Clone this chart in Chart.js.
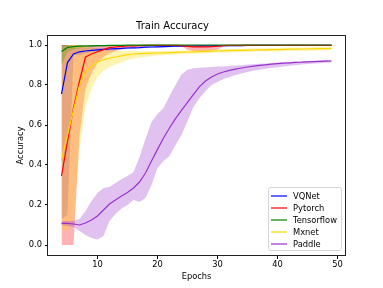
<!DOCTYPE html>
<html>
<head>
<meta charset="utf-8">
<title>Train Accuracy</title>
<script src="https://cdn.jsdelivr.net/npm/chart.js@4.4.1/dist/chart.umd.min.js"></script>
<style>
    html, body { margin: 0; padding: 0; background: #fff; }
    #wrap { width: 383px; height: 288px; }
</style>
</head>
<body>
<div id="wrap"><canvas id="accChart" width="383" height="288"></canvas></div>
<script>
// Epochs on the x axis
const epochs = [4, 5, 6, 7, 8, 9, 10, 11, 12, 13, 14, 15, 16, 17, 18, 19, 20, 21, 22, 23, 24, 25, 26,
    27, 28, 29, 30, 31, 32, 33, 34, 35, 36, 37, 38, 39, 40, 41, 42, 43, 44, 45, 46, 47, 48, 49];

const seriesNames = ['VQNet', 'Pytorch', 'Tensorflow', 'Mxnet', 'Paddle'];
const seriesColors = ['#0000ff', '#ff0000', '#008000', '#ffd700', '#9932cc'];
const bandColors = ['rgba(0,0,255,0.2)', 'rgba(255,0,0,0.3)', 'rgba(0,128,0,0.3)',
    'rgba(255,215,0,0.3)', 'rgba(153,50,204,0.3)'];

const xTicks = [10, 20, 30, 40, 50];
const yTicks = [0.0, 0.2, 0.4, 0.6, 0.8, 1.0];

// VQNet
const vqnetMean = [0.755, 0.912, 0.955, 0.966, 0.970, 0.973, 0.976, 0.978, 0.980, 0.982, 0.983, 0.985,
    0.986, 0.987, 0.989, 0.990, 0.991, 0.992, 0.993, 0.994, 0.994, 0.995, 0.995, 0.996, 0.996, 0.996,
    0.997, 0.997, 0.997, 0.997, 0.997, 0.998, 0.998, 0.998, 0.998, 0.998, 0.998, 0.998, 0.998, 0.998,
    0.998, 0.998, 0.998, 0.998, 0.998, 0.998];
const vqnetLow = [0.13, 0.15, 0.95, 0.950, 0.957, 0.962, 0.966, 0.969, 0.972, 0.975, 0.977, 0.979,
    0.981, 0.983, 0.985, 0.986, 0.987, 0.988, 0.989, 0.990, 0.990, 0.991, 0.991, 0.992, 0.992, 0.993,
    0.993, 0.994, 0.994, 0.994, 0.994, 0.995, 0.995, 0.995, 0.995, 0.995, 0.995, 0.995, 0.995, 0.995,
    0.995, 0.995, 0.995, 0.995, 0.995, 0.995];
const vqnetHigh = [1.0, 1.0, 0.985, 0.985, 0.985, 0.986, 0.985, 0.986, 0.987, 0.988, 0.989, 0.990,
    0.991, 0.992, 0.994, 0.995, 0.996, 0.997, 0.998, 0.999, 0.999, 1.0, 1.0, 1.0, 1.0, 1.0, 1.0, 1.0,
    1.0, 1.0, 1.0, 1.0, 1.0, 1.0, 1.0, 1.0, 1.0, 1.0, 1.0, 1.0, 1.0, 1.0, 1.0, 1.0, 1.0, 1.0];

// Pytorch
const pytorchMean = [0.345, 0.52, 0.685, 0.82, 0.94, 0.955, 0.966, 0.977, 0.987, 0.990, 0.993, 0.995,
    0.996, 0.997, 0.998, 0.998, 0.998, 0.998, 0.998, 0.998, 0.997, 0.993, 0.991, 0.991, 0.991, 0.992,
    0.994, 0.997, 0.998, 0.998, 0.998, 0.998, 0.998, 0.998, 0.998, 0.998, 0.998, 0.998, 0.998, 0.998,
    0.998, 0.998, 0.998, 0.998, 0.998, 0.998];
const pytorchLow = [0.0, 0.0, 0.0, 0.55, 0.78, 0.86, 0.91, 0.94, 0.957, 0.970, 0.978, 0.984, 0.988,
    0.991, 0.993, 0.994, 0.995, 0.995, 0.995, 0.995, 0.994, 0.976, 0.970, 0.970, 0.970, 0.972, 0.976,
    0.994, 0.996, 0.996, 0.996, 0.996, 0.996, 0.996, 0.996, 0.996, 0.996, 0.996, 0.996, 0.996, 0.996,
    0.996, 0.996, 0.996, 0.996, 0.996];
const pytorchHigh = [1.0, 1.0, 1.0, 1.0, 1.0, 1.0, 1.0, 1.0, 1.0, 1.0, 1.0, 1.0, 1.0, 1.0, 1.0, 1.0,
    1.0, 1.0, 1.0, 1.0, 1.0, 1.0, 1.0, 1.0, 1.0, 1.0, 1.0, 1.0, 1.0, 1.0, 1.0, 1.0, 1.0, 1.0, 1.0, 1.0,
    1.0, 1.0, 1.0, 1.0, 1.0, 1.0, 1.0, 1.0, 1.0, 1.0];

// Tensorflow
const tensorflowMean = [0.967, 0.988, 0.992, 0.994, 0.995, 0.996, 0.997, 0.997, 0.998, 0.998, 0.998,
    0.999, 0.999, 0.999, 0.999, 0.999, 1.0, 1.0, 1.0, 1.0, 1.0, 1.0, 1.0, 1.0, 1.0, 1.0, 1.0, 1.0, 1.0,
    1.0, 1.0, 1.0, 1.0, 1.0, 1.0, 1.0, 1.0, 1.0, 1.0, 1.0, 1.0, 1.0, 1.0, 1.0, 1.0, 1.0];
const tensorflowLow = [0.90, 0.965, 0.978, 0.984, 0.987, 0.989, 0.991, 0.992, 0.993, 0.994, 0.995,
    0.996, 0.997, 0.997, 0.997, 0.997, 0.998, 0.998, 0.998, 0.998, 0.998, 0.998, 0.998, 0.998, 0.998,
    0.998, 0.998, 0.998, 0.998, 0.998, 0.998, 0.998, 0.998, 0.998, 0.998, 0.998, 0.998, 0.998, 0.998,
    0.998, 0.998, 0.998, 0.998, 0.998, 0.998, 0.998];
const tensorflowHigh = [1.0, 1.0, 1.0, 1.0, 1.0, 1.0, 1.0, 1.0, 1.0, 1.0, 1.0, 1.0, 1.0, 1.0, 1.0,
    1.0, 1.0, 1.0, 1.0, 1.0, 1.0, 1.0, 1.0, 1.0, 1.0, 1.0, 1.0, 1.0, 1.0, 1.0, 1.0, 1.0, 1.0, 1.0, 1.0,
    1.0, 1.0, 1.0, 1.0, 1.0, 1.0, 1.0, 1.0, 1.0, 1.0, 1.0];

// Mxnet
const mxnetMean = [0.426, 0.55, 0.675, 0.80, 0.865, 0.895, 0.915, 0.926, 0.934, 0.940, 0.946, 0.952,
    0.955, 0.957, 0.958, 0.959, 0.960, 0.961, 0.962, 0.963, 0.964, 0.965, 0.966, 0.967, 0.968, 0.969,
    0.970, 0.971, 0.972, 0.973, 0.973, 0.974, 0.975, 0.976, 0.976, 0.977, 0.977, 0.978, 0.979, 0.979,
    0.980, 0.980, 0.981, 0.982, 0.982, 0.983];
const mxnetLow = [0.075, 0.075, 0.12, 0.48, 0.69, 0.78, 0.84, 0.87, 0.89, 0.903, 0.914, 0.925, 0.932,
    0.937, 0.941, 0.944, 0.947, 0.949, 0.951, 0.953, 0.955, 0.956, 0.957, 0.958, 0.959, 0.960, 0.961,
    0.962, 0.963, 0.964, 0.964, 0.965, 0.966, 0.967, 0.967, 0.968, 0.968, 0.969, 0.970, 0.970, 0.971,
    0.971, 0.972, 0.973, 0.973, 0.974];
const mxnetHigh = [0.99, 1.0, 1.0, 1.0, 0.99, 0.985, 0.98, 0.976, 0.973, 0.971, 0.970, 0.970, 0.969,
    0.969, 0.969, 0.969, 0.970, 0.970, 0.971, 0.971, 0.972, 0.973, 0.974, 0.975, 0.976, 0.977, 0.978,
    0.979, 0.980, 0.981, 0.981, 0.982, 0.983, 0.984, 0.984, 0.985, 0.985, 0.986, 0.987, 0.987, 0.988,
    0.988, 0.989, 0.990, 0.990, 0.991];

// Paddle
const paddleMean = [0.108, 0.108, 0.105, 0.10, 0.11, 0.125, 0.145, 0.175, 0.205, 0.225, 0.245, 0.262,
    0.285, 0.315, 0.36, 0.42, 0.478, 0.535, 0.585, 0.632, 0.673, 0.713, 0.753, 0.792, 0.82, 0.84, 0.855,
    0.865, 0.873, 0.879, 0.885, 0.89, 0.894, 0.898, 0.901, 0.904, 0.907, 0.909, 0.911, 0.913, 0.914,
    0.916, 0.917, 0.918, 0.919, 0.92];
const paddleLow = [0.10, 0.095, 0.09, 0.07, 0.05, 0.035, 0.027, 0.045, 0.12, 0.155, 0.182, 0.20, 0.225,
    0.215, 0.235, 0.30, 0.385, 0.42, 0.445, 0.50, 0.55, 0.62, 0.69, 0.735, 0.77, 0.80, 0.815, 0.83, 0.84,
    0.85, 0.858, 0.865, 0.871, 0.876, 0.881, 0.885, 0.889, 0.893, 0.896, 0.899, 0.902, 0.905, 0.907,
    0.909, 0.911, 0.912];
const paddleHigh = [0.12, 0.12, 0.12, 0.13, 0.17, 0.22, 0.26, 0.285, 0.29, 0.31, 0.33, 0.345, 0.365,
    0.44, 0.53, 0.615, 0.655, 0.685, 0.745, 0.80, 0.852, 0.876, 0.884, 0.886, 0.888, 0.890, 0.892, 0.893,
    0.895, 0.897, 0.899, 0.902, 0.904, 0.906, 0.908, 0.910, 0.912, 0.914, 0.915, 0.917, 0.918, 0.920,
    0.921, 0.922, 0.924, 0.925];

const means = [vqnetMean, pytorchMean, tensorflowMean, mxnetMean, paddleMean];
const lows = [vqnetLow, pytorchLow, tensorflowLow, mxnetLow, paddleLow];
const highs = [vqnetHigh, pytorchHigh, tensorflowHigh, mxnetHigh, paddleHigh];

function toPoints(values) {
    return epochs.map((e, i) => ({ x: e, y: values[i] }));
}

const n = seriesNames.length;
const datasets = [];

// Mean lines (indices 0..4), later series on top
seriesNames.forEach((name, i) => {
    datasets.push({
        label: name,
        data: toPoints(means[i]),
        borderColor: seriesColors[i],
        borderWidth: 1.2,
        pointRadius: 0,
        fill: false,
        order: n - 1 - i
    });
});

// Lower edges of the bands (indices 5..9), invisible
seriesNames.forEach((name, i) => {
    datasets.push({
        label: name + ' low',
        data: toPoints(lows[i]),
        borderColor: 'rgba(0,0,0,0)',
        borderWidth: 1,
        pointRadius: 0,
        fill: false,
        order: 30
    });
});

// Upper edges, filled down to the lower edge (indices 10..14)
seriesNames.forEach((name, i) => {
    datasets.push({
        label: name + ' high',
        data: toPoints(highs[i]),
        borderColor: 'rgba(0,0,0,0)',
        borderWidth: 1,
        pointRadius: 0,
        backgroundColor: bandColors[i],
        fill: { target: n + i },
        order: 10 + (n - 1 - i)
    });
});

// Frame around the plot + legend box in the lower right
const frameAndLegend = {
    id: 'frameAndLegend',
    afterDraw(chart) {
        const ctx = chart.ctx;
        const a = chart.chartArea;
        ctx.save();
        ctx.strokeStyle = '#222';
        ctx.lineWidth = 1;
        ctx.strokeRect(Math.round(a.left) - 0.5, Math.round(a.top) + 0.5,
            Math.round(a.right - a.left) + 1, Math.round(a.bottom - a.top) - 1);

        // legend
        const boxW = 73, boxH = 63;
        const bx = a.right - 4 - boxW;
        const by = a.bottom - 6 - boxH;
        ctx.beginPath();
        ctx.roundRect(bx + 0.5, by + 0.5, boxW, boxH, 2);
        ctx.fillStyle = 'rgba(255,255,255,0.8)';
        ctx.fill();
        ctx.strokeStyle = '#d6d6d6';
        ctx.stroke();

        ctx.font = '8.3px "DejaVu Sans"';
        ctx.textBaseline = 'middle';
        ctx.textAlign = 'left';
        seriesNames.forEach((name, i) => {
            const y = by + 9 + i * 12;
            ctx.beginPath();
            ctx.moveTo(bx + 3, y);
            ctx.lineTo(bx + 19, y);
            ctx.strokeStyle = seriesColors[i];
            ctx.lineWidth = 1.2;
            ctx.stroke();
            ctx.fillStyle = '#000';
            ctx.fillText(name, bx + 25, y + 0.5);
        });
        ctx.restore();
    }
};

Chart.defaults.font.family = '"DejaVu Sans", sans-serif';
Chart.defaults.font.size = 8.3;
Chart.defaults.color = '#000';

const ctx = document.getElementById('accChart').getContext('2d');
const accChart = new Chart(ctx, {
    type: 'line',
    data: { datasets: datasets },
    options: {
        responsive: false,
        animation: false,
        events: [],
        layout: { padding: { left: 0, right: 38, top: 0, bottom: 0 } },
        plugins: {
            legend: { display: false },
            tooltip: { enabled: false },
            filler: { drawTime: 'beforeDatasetsDraw', propagate: false },
            title: {
                display: true,
                text: 'Train Accuracy',
                color: '#000',
                font: { size: 10, weight: 'normal' },
                padding: { top: 20, bottom: 3 }
            }
        },
        scales: {
            x: {
                type: 'linear',
                min: 1.75,
                max: 51.25,
                afterFit: scale => { scale.height = 32; },
                afterBuildTicks: scale => { scale.ticks = xTicks.map(v => ({ value: v })); },
                ticks: { padding: 1, maxRotation: 0, autoSkip: false, callback: v => String(v) },
                grid: { drawOnChartArea: false, drawTicks: true, tickLength: 3, color: '#000' },
                border: { display: false },
                title: { display: true, text: 'Epochs', padding: { top: 0, bottom: 6 } }
            },
            y: {
                type: 'linear',
                min: -0.055,
                max: 1.05,
                afterFit: scale => { scale.width = 48; },
                afterBuildTicks: scale => { scale.ticks = yTicks.map(v => ({ value: v })); },
                ticks: { padding: 3, autoSkip: false, callback: v => v.toFixed(1) },
                grid: { drawOnChartArea: false, drawTicks: true, tickLength: 3, color: '#000' },
                border: { display: false },
                title: { display: true, text: 'Accuracy', padding: { top: 16, bottom: 0 } }
            }
        }
    },
    plugins: [frameAndLegend]
});
</script>
</body>
</html>
